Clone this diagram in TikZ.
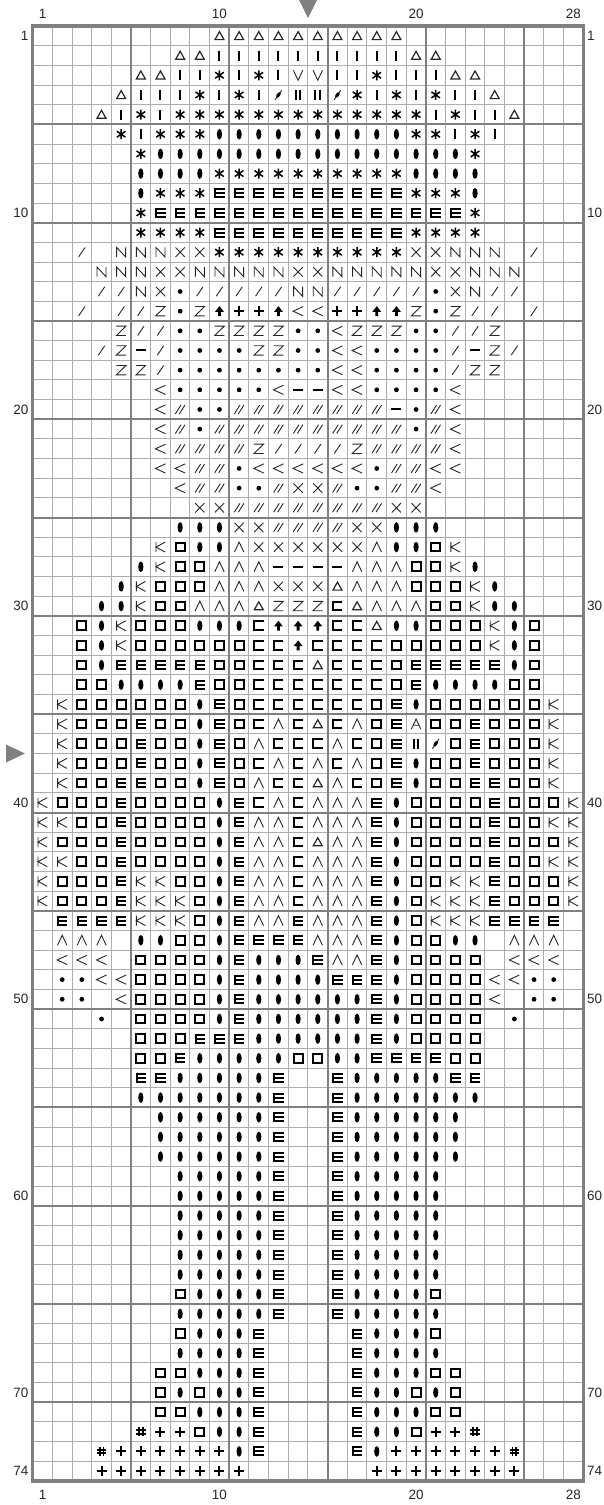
\documentclass[tikz,border=0pt]{standalone}
\usepackage{fontspec}
\setmainfont{Liberation Sans}
\newcount\stitchcol
\def\WalkCells#1{\ifx#1\relax\else
  \advance\stitchcol by 1\relax
  \if#1.\else\pic at ({32.7+19.66*(\the\stitchcol-.5)},{26.1+19.66*(\rowno-.5)}) {st#1};\fi
  \expandafter\WalkCells\fi}
\newcommand{\ChartRow}[2]{\def\rowno{#1}\stitchcol=0\relax\WalkCells#2\relax}
\tikzset{
  symthin/.style={line width=.9pt, black!85},
  symbold/.style={line width=2pt, black},
  pics/stA/.style={code={\draw[line width=1.2pt, black!85] (0,-4.3) -- (4.5,3.7) -- (-4.5,3.7) -- cycle;}},
  pics/stI/.style={code={\draw[symbold] (0,-5) -- (0,5);}},
  pics/stQ/.style={code={\draw[symbold] (-2.3,-5) -- (-2.3,5) (2.3,-5) -- (2.3,5);}},
  pics/stF/.style={code={\draw[symthin] (-3.3,5) -- (3.3,-4.7);
    \fill[rotate=55] (0,0) ellipse (3.2pt and 1.7pt);}},
  pics/stS/.style={code={\draw[line width=1.5pt] (0,-5) -- (0,5) (-4.3,-3) -- (4.3,3) (-4.3,3) -- (4.3,-3);}},
  pics/stO/.style={code={\fill (0,0) ellipse (2.6pt and 5.3pt);}},
  pics/stE/.style={code={\draw[symbold] (5.2,-4) -- (-4.3,-4) -- (-4.3,4) -- (5.2,4) (-4.3,0) -- (5.2,0);}},
  pics/stC/.style={code={\draw[symbold] (5,-4.4) -- (-4.3,-4.4) -- (-4.3,4.4) -- (5,4.4);}},
  pics/stB/.style={code={\draw[symbold] (-4.5,-4.3) rectangle (4.5,4.3);}},
  pics/stL/.style={code={\draw[symthin] (-3.2,4.7) -- (3.2,-4.7);}},
  pics/stT/.style={code={\draw[symthin] (-4.8,4.4) -- (.8,-4.4) (-.8,4.4) -- (4.8,-4.4);}},
  pics/stN/.style={code={\draw[symthin] (-4.5,4.8) -- (-4.5,-4.8) -- (4.5,4.8) -- (4.5,-4.8);}},
  pics/stX/.style={code={\draw[symthin] (-4.6,-4.7) -- (4.6,4.7) (-4.6,4.7) -- (4.6,-4.7);}},
  pics/stZ/.style={code={\draw[symthin] (-4.8,-4.7) -- (4.8,-4.7) -- (-4.8,4.7) -- (4.8,4.7);}},
  pics/stK/.style={code={\draw[symthin] (-4.5,-5) -- (-4.5,5) (4.7,-5) -- (-4.5,0) -- (4.7,5);}},
  pics/stH/.style={code={\draw[symthin] (-4.7,5) -- (0,-5) -- (4.7,5);}},
  pics/stV/.style={code={\draw[symthin] (-4.7,-5) -- (0,5) -- (4.7,-5);}},
  pics/stR/.style={code={\draw[symthin] (-4.7,5) -- (0,-5) -- (4.7,5) (-2.7,1.2) -- (2.7,1.2);}},
  pics/stW/.style={code={\draw[symthin] (5,-4.6) -- (-5,0) -- (5,4.6);}},
  pics/stD/.style={code={\fill (0,0) ellipse (2.4pt and 2.4pt);}},
  pics/stM/.style={code={\draw[symbold] (-5,0) -- (5,0);}},
  pics/stP/.style={code={\draw[symbold] (-5,0) -- (5,0) (0,-5) -- (0,5);}},
  pics/stU/.style={code={\fill (0,-5) -- (4.4,.6) -- (1.4,.6) -- (1.4,5) -- (-1.4,5) -- (-1.4,.6) -- (-4.4,.6) -- cycle;}},
  pics/stG/.style={code={\draw[line width=1.8pt] (-1.9,-4.6) -- (-1.9,4.6) (1.9,-4.6) -- (1.9,4.6)
    (-4.8,-1.8) -- (4.8,-1.8) (-4.8,1.8) -- (4.8,1.8);}}
}
\begin{document}
\begin{tikzpicture}[
  x=1pt, y=-1pt,
  gridthin/.style={line width=1pt, black!32},
  gridbold/.style={line width=2pt, black!50},
  gridframe/.style={line width=3.3pt, black!50},
  marker/.style={fill=black!50},
  numlabel/.style={font=\fontsize{13.5}{13.5}\selectfont, text=black!85, inner sep=0pt}
]
\useasboundingbox (0,0) rectangle (603,1505);

% grid
\foreach \c in {1,...,27} \draw[gridthin] ({32.7+19.66*\c},26.1) -- ({32.7+19.66*\c},1481);
\foreach \r in {1,...,73} \draw[gridthin] (32.7,{26.1+19.66*\r}) -- (583.2,{26.1+19.66*\r});
\foreach \c in {5,10,15,20,25} \draw[gridbold] ({32.7+19.66*\c},26.1) -- ({32.7+19.66*\c},1481);
\foreach \r in {5,10,...,70} \draw[gridbold] (32.7,{26.1+19.66*\r}) -- (583.2,{26.1+19.66*\r});
\draw[gridframe] (32.7,26.1) rectangle (583.2,1481);

% centre markers
\fill[marker] (299,0) -- (317,0) -- (308,18) -- cycle;
\fill[marker] (6,744.5) -- (25,753.5) -- (6,762.5) -- cycle;

% numbers
\foreach \c in {1,10,20,28} {
  \node[numlabel] (coltop\c) at ({32.7+19.66*(\c-.5)},14) {\c};
  \node[numlabel] (colbot\c) at ({32.7+19.66*(\c-.5)},1495) {\c};
}
\foreach \r in {1,10,20,30,40,50,60,70,74} {
  \node[numlabel, anchor=east] (rowleft\r) at (28.6,{26.1+19.66*(\r-.5)}) {\r};
  \node[numlabel, anchor=west] (rowright\r) at (587,{26.1+19.66*(\r-.5)}) {\r};
}

% chart
\ChartRow{1}{.........AAAAAAAAAA.........}
\ChartRow{2}{.......AAIIIIIIIIIIAA.......}
\ChartRow{3}{.....AAIISISIVVIISIIIAA.....}
\ChartRow{4}{....AIIISISIFQQFSISISIIA....}
\ChartRow{5}{...AISISSSSSSSSSSSSSISIIA...}
\ChartRow{6}{....SISSSOOOOOOOOOOSSISI....}
\ChartRow{7}{.....SOOOOOOOOOOOOOOOOS.....}
\ChartRow{8}{.....OOOOSSSSSSSSSSOOOO.....}
\ChartRow{9}{.....OSSSEEEEEEEEEESSSO.....}
\ChartRow{10}{.....SEEEEEEEEEEEEEEEES.....}
\ChartRow{11}{.....SSSSEEEEEEEEEESSSS.....}
\ChartRow{12}{..L.NNNXXSSSSSSSSSSXXNNN.L..}
\ChartRow{13}{...NNNXXNNNNNXXNNNNNXXNNN...}
\ChartRow{14}{...LLNXDLLLLLNNLLLLLDXNLL...}
\ChartRow{15}{..L.LLZDZUPPUWWPPUUZDZLL.L..}
\ChartRow{16}{....ZLLDDZZZZDDWZZZDDLLZ....}
\ChartRow{17}{...LZMLDDDDZZDDWWDDDDLMZL...}
\ChartRow{18}{....ZZLDDDDDDDDWWDDDDLZZ....}
\ChartRow{19}{......WDDDDDWMMWWDDDDW......}
\ChartRow{20}{......WTDDTTTTTTTTMDTW......}
\ChartRow{21}{......WTDTTTTTTTTTTDTW......}
\ChartRow{22}{......WTTTTZLLLLZTTTTW......}
\ChartRow{23}{......WWTTDWWWWWWDTTWW......}
\ChartRow{24}{.......WTTDDTXXTDDTTW.......}
\ChartRow{25}{........XXTTTTTTTTXX........}
\ChartRow{26}{.......OOOXXTTTTXXOOO.......}
\ChartRow{27}{......KBOOHXXXXXXHOOBK......}
\ChartRow{28}{.....OKBBHHHMMMMHHHBBKO.....}
\ChartRow{29}{....OKBBBHHHXXXAHHHBBBKO....}
\ChartRow{30}{...OOKBBHHHAZZZCAHHHBBKOO...}
\ChartRow{31}{..BOKBBBOOOCUUUCCAOOBBBKOB..}
\ChartRow{32}{..BOKBBBBBBCCUCCCCBBBBBKOB..}
\ChartRow{33}{..BOEEEEEBBCCCACCCBEEEEEOB..}
\ChartRow{34}{..BBOOOOEBBCCCCCCCBEOOOOBB..}
\ChartRow{35}{.KBBBBBBOEBCCCCCCBEOBBBBBBK.}
\ChartRow{36}{.KBBBEBBOEBCHCACHBERBBEBBBK.}
\ChartRow{37}{.KBBBEBBOEBHCCCHCBEQFBEBBBK.}
\ChartRow{38}{.KBBBEBBOEBCHCHCHBEOBBEBBBK.}
\ChartRow{39}{.KBBEEBBOEBHCCAHCBEOBBEEBBK.}
\ChartRow{40}{KBBBEBBBBOECHCHHHEOBBBBEBBBK}
\ChartRow{41}{KKBBEBBBBOEHHCHHHEOBBBBEBBKK}
\ChartRow{42}{KBBBEBBBBOEHHCAHHEOBBBBEBBBK}
\ChartRow{43}{KKBBEBBBBOEHHCHHHEOBBBBEBBKK}
\ChartRow{44}{KBBBEKKBBOEHHCHHHEOBBKKEBBBK}
\ChartRow{45}{KBBBEKKKBOEHHCHHHEOBKKKEBBBK}
\ChartRow{46}{.EEEEKKKBOEHHEHHHEOBKKKEEEE.}
\ChartRow{47}{.HHH.OOBBOEEEEHHHEOBBOO.HHH.}
\ChartRow{48}{.WWW.BBBBOEOOOEHHEOBBBB.WWW.}
\ChartRow{49}{.DDWWBBBBOEOOOOEEEOBBBBWWDD.}
\ChartRow{50}{.DD.WBBBBOEOOOOOOEOBBBBW.DD.}
\ChartRow{51}{...D.BBBBOEOOOOOOEOBBBB.D...}
\ChartRow{52}{.....BBBEEEOOOOOOEOBBBB.....}
\ChartRow{53}{.....BBEOOOOOBBOOEEEEBB.....}
\ChartRow{54}{.....EEOOOOOE..EOOOOOEE.....}
\ChartRow{55}{.....OOOOOOOE..EOOOOOOO.....}
\ChartRow{56}{......OOOOOOE..EOOOOOO......}
\ChartRow{57}{......OOOOOOE..EOOOOOO......}
\ChartRow{58}{......OOOOOOE..EOOOOOO......}
\ChartRow{59}{.......OOOOOE..EOOOOO.......}
\ChartRow{60}{.......OOOOOE..EOOOOO.......}
\ChartRow{61}{.......OOOOOE..EOOOOO.......}
\ChartRow{62}{.......OOOOOE..EOOOOO.......}
\ChartRow{63}{.......OOOOOE..EOOOOO.......}
\ChartRow{64}{.......OOOOOE..EOOOOO.......}
\ChartRow{65}{.......BOOOOE..EOOOOB.......}
\ChartRow{66}{.......OOOOOE..EOOOOO.......}
\ChartRow{67}{.......BOOOE....EOOOB.......}
\ChartRow{68}{.......OOOOE....EOOOO.......}
\ChartRow{69}{......BBOOOE....EOOOBB......}
\ChartRow{70}{......BOBOOE....EOOBOB......}
\ChartRow{71}{......BBOOOE....EOOOBB......}
\ChartRow{72}{.....GPPBOOE....EOOBPPG.....}
\ChartRow{73}{...GPPPPPPOE....EOPPPPPPG...}
\ChartRow{74}{...PPPPPPPP......PPPPPPPP...}
\end{tikzpicture}
\end{document}
